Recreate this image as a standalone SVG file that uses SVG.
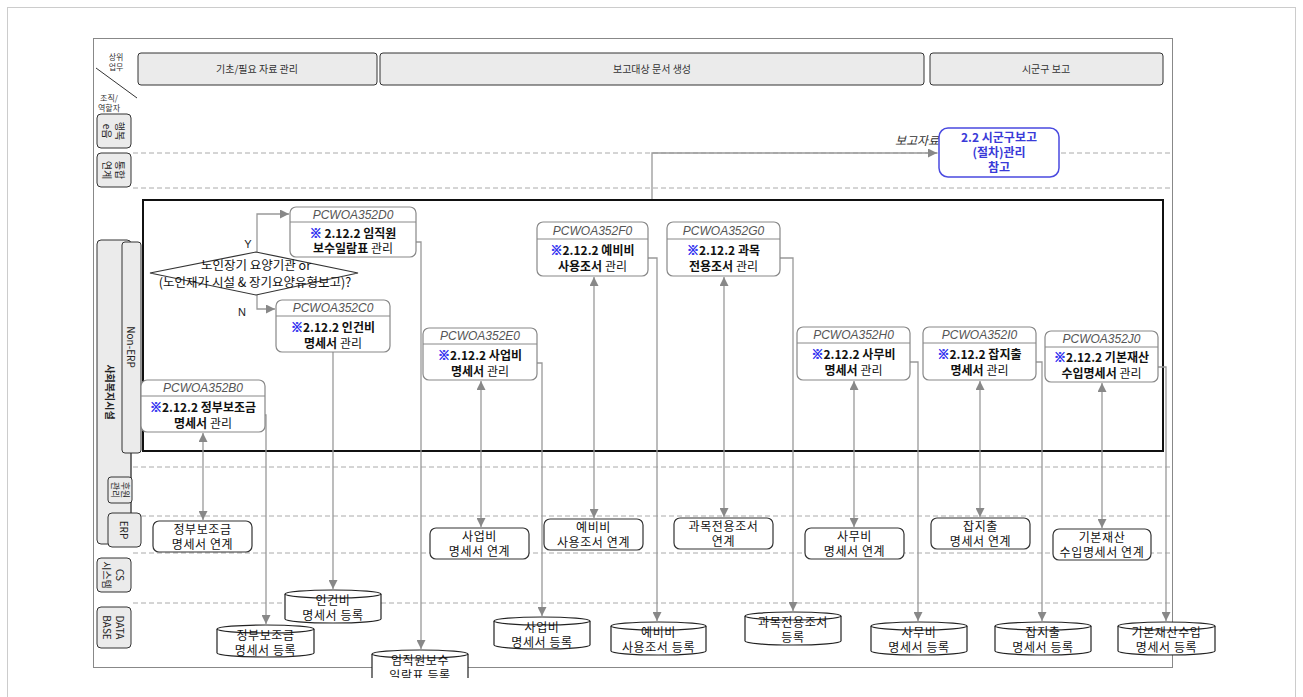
<svg xmlns="http://www.w3.org/2000/svg" width="1303" height="697" viewBox="0 0 1303 697">
<style>
text{font-family:"Noto Sans CJK KR","Liberation Sans",sans-serif;}
.hdr{fill:#ebebeb;stroke:#333;stroke-width:1}
.lane{fill:#ebebeb;stroke:#333;stroke-width:1}
.node{fill:#fff;stroke:#888;stroke-width:1.2}
.nl{stroke:#888;stroke-width:1}
.erp{fill:#fff;stroke:#333;stroke-width:1.2}
.cyl{fill:#fff;stroke:#222;stroke-width:1.2}
.conn{stroke:#999;stroke-width:1.3;fill:none}
.dash{stroke:#aaa;stroke-width:1;stroke-dasharray:5 3;fill:none}
.ht{font-size:10px;fill:#333;text-anchor:middle}
.lt{font-size:10px;fill:#222;text-anchor:middle;dominant-baseline:central}
.pid{font-family:"Liberation Sans",sans-serif;font-style:italic;font-size:12px;fill:#555;text-anchor:middle}
.body{font-size:12px;font-weight:bold;fill:#111;text-anchor:middle}
.mk{fill:#3030f0;stroke:#3030f0;stroke-width:0.6;font-weight:bold}
.nm{font-weight:normal}
.dt{font-size:12px;fill:#111;text-anchor:middle;letter-spacing:0.6px}
.bl{font-size:12px;font-weight:bold;fill:#3a3ad8;text-anchor:middle}
.sm{font-size:8px;fill:#333;text-anchor:middle}
</style>
<defs>
<marker id="ar" viewBox="0 0 10 10" refX="10" refY="5" markerWidth="9" markerHeight="9" markerUnits="userSpaceOnUse" orient="auto-start-reverse"><path d="M0,0 L10,5 L0,10 z" fill="#888"/></marker>
<clipPath id="clipb"><rect x="0" y="0" width="1303" height="678"/></clipPath>
</defs>
<rect x="0" y="0" width="1303" height="697" fill="#fff"/>
<rect x="7.5" y="7.5" width="1288" height="710" fill="none" stroke="#ccc"/>
<rect x="93.5" y="38.5" width="1079" height="629" fill="none" stroke="#888"/>

<g id="header">
<text class="sm" x="116" y="60">상위</text>
<text class="sm" x="116" y="70">업무</text>
<line x1="96" y1="68" x2="137" y2="98" stroke="#333" stroke-width="1"/>
<text class="sm" x="109" y="101">조직/</text>
<text class="sm" x="109" y="111">역할자</text>
<rect class="hdr" x="138" y="53" width="239" height="32" rx="3"/>
<text class="ht" x="257" y="73">기초/필요 자료 관리</text>
<rect class="hdr" x="380" y="53" width="544" height="32" rx="3"/>
<text class="ht" x="652" y="73">보고대상 문서 생성</text>
<rect class="hdr" x="930" y="53" width="233" height="32" rx="3"/>
<text class="ht" x="1046" y="73">시군구 보고</text>
</g>

<g id="lanes">
<path class="dash" d="M133,153 H1172 M133,188 H1172 M133,467 H1172 M133,516 H1172 M133,553 H1172 M133,603 H1172"/>
<rect x="143" y="200" width="1020" height="251" fill="none" stroke="#111" stroke-width="2"/>
<g id="lane-haengbok"><rect class="lane" x="97" y="114" width="34" height="34" rx="4"/>
<g transform="translate(114,131) rotate(90)"><text class="lt" x="0" y="-6">행복</text><text class="lt" x="0" y="7">e음</text></g></g>
<g id="lane-tonghap"><rect class="lane" x="97" y="153" width="34" height="34" rx="4"/>
<g transform="translate(114,170) rotate(90)"><text class="lt" x="0" y="-6">통합</text><text class="lt" x="0" y="7">연계</text></g></g>
<g id="lane-welfare"><rect class="lane" x="97" y="240" width="34" height="304" rx="4"/>
<g transform="translate(110,392) rotate(90)"><text class="lt" x="0" y="0" style="font-size:10px;font-weight:bold">사회복지시설</text></g></g>
<line x1="131" y1="453" x2="131" y2="515" stroke="#555"/>
<g id="lane-nonerp"><rect class="lane" x="122" y="242" width="19" height="211" rx="3"/>
<g transform="translate(131.5,347) rotate(90)"><text class="lt" x="0" y="0">Non-ERP</text></g></g>
<g id="lane-huwon"><rect class="lane" x="108" y="477" width="24" height="26" rx="3"/>
<g transform="translate(120,490) rotate(90)"><text class="lt" x="0" y="-5" style="font-size:9px">후원</text><text class="lt" x="0" y="5" style="font-size:9px">관리</text></g></g>
<g id="lane-erp"><rect class="lane" x="108" y="513" width="33" height="34" rx="4"/>
<g transform="translate(124.5,530) rotate(90)"><text class="lt" x="0" y="0">ERP</text></g></g>
<g id="lane-cs"><rect class="lane" x="97" y="558" width="34" height="34" rx="4"/>
<g transform="translate(114,575) rotate(90)"><text class="lt" x="0" y="-6">CS</text><text class="lt" x="0" y="7">시스템</text></g></g>
<g id="lane-db"><rect class="lane" x="97" y="607" width="34" height="41" rx="4"/>
<g transform="translate(114,627.5) rotate(90)"><text class="lt" x="0" y="-6">DATA</text><text class="lt" x="0" y="7">BASE</text></g></g>
</g>

<g id="connectors">
<path class="conn" d="M652,199 V153 H937" marker-end="url(#ar)"/>
<path class="conn" d="M257,252 V214 H289" marker-end="url(#ar)"/>
<path class="conn" d="M257,295 V309 H275" marker-end="url(#ar)"/>
<path class="conn" d="M416,242 H421 V649" marker-end="url(#ar)"/>
<path class="conn" d="M333,352 V589" marker-end="url(#ar)"/>
<path class="conn" d="M265,415 H266 V624" marker-end="url(#ar)"/>
<path class="conn" d="M203,433 V520" marker-start="url(#ar)" marker-end="url(#ar)"/>
<path class="conn" d="M537,363 H542 V616" marker-end="url(#ar)"/>
<path class="conn" d="M481,381 V527" marker-start="url(#ar)" marker-end="url(#ar)"/>
<path class="conn" d="M648,258 H657 V621" marker-end="url(#ar)"/>
<path class="conn" d="M594,277 V518" marker-start="url(#ar)" marker-end="url(#ar)"/>
<path class="conn" d="M780,258 H793 V611" marker-end="url(#ar)"/>
<path class="conn" d="M724,277 V517" marker-start="url(#ar)" marker-end="url(#ar)"/>
<path class="conn" d="M910,362 H918 V621" marker-end="url(#ar)"/>
<path class="conn" d="M854,381 V527" marker-start="url(#ar)" marker-end="url(#ar)"/>
<path class="conn" d="M1036,362 H1042 V621" marker-end="url(#ar)"/>
<path class="conn" d="M980,381 V517" marker-start="url(#ar)" marker-end="url(#ar)"/>
<path class="conn" d="M1158,367 H1166 V621" marker-end="url(#ar)"/>
<path class="conn" d="M1102,383 V528" marker-start="url(#ar)" marker-end="url(#ar)"/>
</g>

<g id="report-label"><text x="895" y="145" style="font-size:12px;font-style:italic;fill:#333">보고자료</text></g>
<g id="ref22">
<rect x="939" y="128" width="120" height="49" rx="9" fill="#fff" stroke="#4a4ae0" stroke-width="1.5"/>
<text class="bl" x="999" y="142">2.2 시군구보고</text>
<text class="bl" x="999" y="157">(절차)관리</text>
<text class="bl" x="999" y="172">참고</text>
</g>

<g id="decision">
<polygon points="150,273 256,252 358,273 256,295" fill="#fff" stroke="#333" stroke-width="1.2"/>
<text x="256" y="270" style="font-size:12.5px;fill:#111;text-anchor:middle">노인장기 요양기관 or</text>
<text x="255" y="287" style="font-size:12.5px;fill:#111;text-anchor:middle">(노인재가 시설 &amp; 장기요양유형보고)?</text>
<text x="248" y="248" style="font-family:'Liberation Sans',sans-serif;font-size:11px;fill:#222;text-anchor:middle">Y</text>
<text x="242" y="316" style="font-family:'Liberation Sans',sans-serif;font-size:11px;fill:#222;text-anchor:middle">N</text>
</g>

<g id="D0"><rect class="node" x="290" y="207" width="126" height="50" rx="6"/><line class="nl" x1="290" y1="222" x2="416" y2="222"/>
<text class="pid" x="353" y="218.5">PCWOA352D0</text>
<text class="body" x="353" y="238"><tspan class="mk">※</tspan> 2.12.2 임직원</text>
<text class="body" x="353" y="253">보수일람표 <tspan class="nm">관리</tspan></text></g>

<g id="C0"><rect class="node" x="276" y="300" width="114" height="52" rx="6"/><line class="nl" x1="276" y1="316" x2="390" y2="316"/>
<text class="pid" x="333" y="312">PCWOA352C0</text>
<text class="body" x="333" y="332"><tspan class="mk">※</tspan>2.12.2 인건비</text>
<text class="body" x="333" y="348">명세서 <tspan class="nm">관리</tspan></text></g>

<g id="B0"><rect class="node" x="141" y="380" width="124" height="52" rx="6"/><line class="nl" x1="141" y1="396" x2="265" y2="396"/>
<text class="pid" x="203" y="392">PCWOA352B0</text>
<text class="body" x="203" y="412"><tspan class="mk">※</tspan>2.12.2 정부보조금</text>
<text class="body" x="203" y="428">명세서 <tspan class="nm">관리</tspan></text></g>

<g id="E0"><rect class="node" x="423" y="328" width="114" height="52" rx="6"/><line class="nl" x1="423" y1="344" x2="537" y2="344"/>
<text class="pid" x="480" y="340">PCWOA352E0</text>
<text class="body" x="480" y="360"><tspan class="mk">※</tspan>2.12.2 사업비</text>
<text class="body" x="480" y="376">명세서 <tspan class="nm">관리</tspan></text></g>

<g id="F0"><rect class="node" x="537" y="222" width="111" height="54" rx="6"/><line class="nl" x1="537" y1="239" x2="648" y2="239"/>
<text class="pid" x="592.5" y="234.5">PCWOA352F0</text>
<text class="body" x="592.5" y="255"><tspan class="mk">※</tspan>2.12.2 예비비</text>
<text class="body" x="592.5" y="271">사용조서 <tspan class="nm">관리</tspan></text></g>

<g id="G0"><rect class="node" x="667" y="222" width="113" height="54" rx="6"/><line class="nl" x1="667" y1="239" x2="780" y2="239"/>
<text class="pid" x="723.5" y="234.5">PCWOA352G0</text>
<text class="body" x="723.5" y="255"><tspan class="mk">※</tspan>2.12.2 과목</text>
<text class="body" x="723.5" y="271">전용조서 <tspan class="nm">관리</tspan></text></g>

<g id="H0"><rect class="node" x="797" y="327" width="113" height="53" rx="6"/><line class="nl" x1="797" y1="343" x2="910" y2="343"/>
<text class="pid" x="853.5" y="339">PCWOA352H0</text>
<text class="body" x="853.5" y="359"><tspan class="mk">※</tspan>2.12.2 사무비</text>
<text class="body" x="853.5" y="375">명세서 <tspan class="nm">관리</tspan></text></g>

<g id="I0"><rect class="node" x="923" y="327" width="113" height="53" rx="6"/><line class="nl" x1="923" y1="343" x2="1036" y2="343"/>
<text class="pid" x="979.5" y="339">PCWOA352I0</text>
<text class="body" x="979.5" y="359"><tspan class="mk">※</tspan>2.12.2 잡지출</text>
<text class="body" x="979.5" y="375">명세서 <tspan class="nm">관리</tspan></text></g>

<g id="J0"><rect class="node" x="1045" y="331" width="113" height="51" rx="6"/><line class="nl" x1="1045" y1="347" x2="1158" y2="347"/>
<text class="pid" x="1101.5" y="343">PCWOA352J0</text>
<text class="body" x="1101.5" y="362"><tspan class="mk">※</tspan>2.12.2 기본재산</text>
<text class="body" x="1101.5" y="378">수입명세서 <tspan class="nm">관리</tspan></text></g>

<g id="erp-b"><rect class="erp" x="153" y="521" width="99" height="31" rx="6"/><text class="dt" x="202.5" y="534">정부보조금</text><text class="dt" x="202.5" y="549">명세서 연계</text></g>
<g id="erp-e"><rect class="erp" x="430" y="528" width="99" height="31" rx="6"/><text class="dt" x="479.5" y="541">사업비</text><text class="dt" x="479.5" y="556">명세서 연계</text></g>
<g id="erp-f"><rect class="erp" x="544" y="519" width="99" height="31" rx="6"/><text class="dt" x="593.5" y="532">예비비</text><text class="dt" x="593.5" y="547">사용조서 연계</text></g>
<g id="erp-g"><rect class="erp" x="674" y="518" width="99" height="31" rx="6"/><text class="dt" x="723.5" y="531">과목전용조서</text><text class="dt" x="723.5" y="546">연계</text></g>
<g id="erp-h"><rect class="erp" x="805" y="528" width="99" height="31" rx="6"/><text class="dt" x="854.5" y="541">사무비</text><text class="dt" x="854.5" y="556">명세서 연계</text></g>
<g id="erp-i"><rect class="erp" x="931" y="518" width="99" height="31" rx="6"/><text class="dt" x="980.5" y="531">잡지출</text><text class="dt" x="980.5" y="546">명세서 연계</text></g>
<g id="erp-j"><rect class="erp" x="1053" y="529" width="98" height="31" rx="6"/><text class="dt" x="1102" y="542">기본재산</text><text class="dt" x="1102" y="557">수입명세서 연계</text></g>

<g id="db-c"><path class="cyl" d="M285,594 A48,4 0 0 1 381,594 V619 A48,4 0 0 1 285,619 Z"/><path class="cyl" d="M285,594 A48,4 0 0 0 381,594"/><text class="dt" x="333" y="605">인건비</text><text class="dt" x="333" y="620">명세서 등록</text></g>
<g id="db-b"><path class="cyl" d="M217,629 A48.5,4 0 0 1 314,629 V653 A48.5,4 0 0 1 217,653 Z"/><path class="cyl" d="M217,629 A48.5,4 0 0 0 314,629"/><text class="dt" x="265.5" y="640">정부보조금</text><text class="dt" x="265.5" y="655">명세서 등록</text></g>
<g id="db-d" clip-path="url(#clipb)"><path class="cyl" d="M372,654 A48,4 0 0 1 468,654 V679 A48,4 0 0 1 372,679 Z"/><path class="cyl" d="M372,654 A48,4 0 0 0 468,654"/><text class="dt" x="420" y="665">임직원보수</text><text class="dt" x="420" y="680">일람표 등록</text></g>
<g id="db-e"><path class="cyl" d="M494,621 A48,4 0 0 1 590,621 V645 A48,4 0 0 1 494,645 Z"/><path class="cyl" d="M494,621 A48,4 0 0 0 590,621"/><text class="dt" x="542" y="632">사업비</text><text class="dt" x="542" y="647">명세서 등록</text></g>
<g id="db-f"><path class="cyl" d="M611,626 A47.5,4 0 0 1 706,626 V651 A47.5,4 0 0 1 611,651 Z"/><path class="cyl" d="M611,626 A47.5,4 0 0 0 706,626"/><text class="dt" x="658.5" y="637">예비비</text><text class="dt" x="658.5" y="652">사용조서 등록</text></g>
<g id="db-g"><path class="cyl" d="M745,616 A48,4 0 0 1 841,616 V641 A48,4 0 0 1 745,641 Z"/><path class="cyl" d="M745,616 A48,4 0 0 0 841,616"/><text class="dt" x="793" y="627">과목전용조서</text><text class="dt" x="793" y="642">등록</text></g>
<g id="db-h"><path class="cyl" d="M871,626 A48,4 0 0 1 967,626 V651 A48,4 0 0 1 871,651 Z"/><path class="cyl" d="M871,626 A48,4 0 0 0 967,626"/><text class="dt" x="919" y="637">사무비</text><text class="dt" x="919" y="652">명세서 등록</text></g>
<g id="db-i"><path class="cyl" d="M995,626 A48,4 0 0 1 1091,626 V651 A48,4 0 0 1 995,651 Z"/><path class="cyl" d="M995,626 A48,4 0 0 0 1091,626"/><text class="dt" x="1043" y="637">잡지출</text><text class="dt" x="1043" y="652">명세서 등록</text></g>
<g id="db-j"><path class="cyl" d="M1118,626 A48.5,4 0 0 1 1215,626 V651 A48.5,4 0 0 1 1118,651 Z"/><path class="cyl" d="M1118,626 A48.5,4 0 0 0 1215,626"/><text class="dt" x="1166.5" y="637">기본재산수입</text><text class="dt" x="1166.5" y="652">명세서 등록</text></g>
</svg>
